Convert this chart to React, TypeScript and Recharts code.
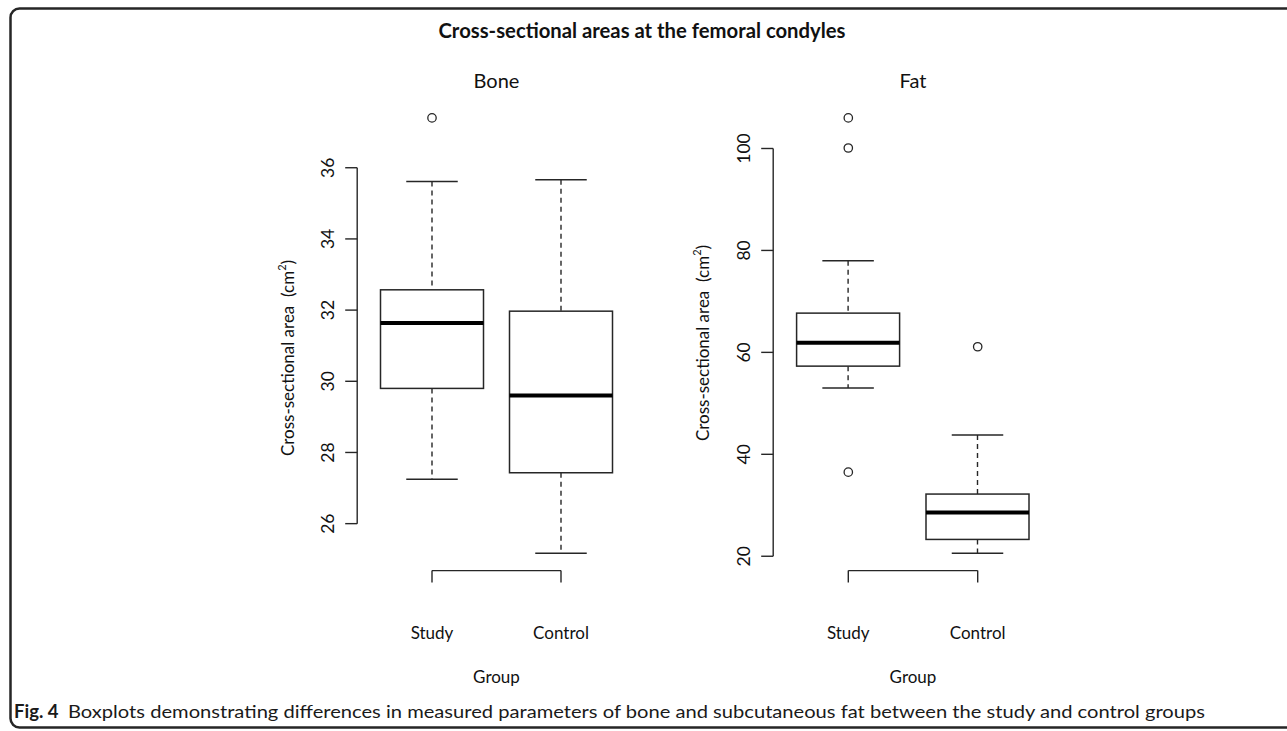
import React from 'react';
import { ComposedChart, Bar, Scatter, XAxis, YAxis, ReferenceLine } from 'recharts';

const groups = ['Study', 'Control'];

// Bone cross-sectional area (cm2), five-number summary per group
const boneLow = [27.25, 25.17];
const boneQ1 = [29.8, 27.43];
const boneMedian = [31.64, 29.6];
const boneQ3 = [32.57, 31.97];
const boneHigh = [35.61, 35.66];
const boneOutliers = [{ group: 'Study', value: 37.4 }];
const boneTicks = [26, 28, 30, 32, 34, 36];

// Subcutaneous fat cross-sectional area (cm2)
const fatLow = [53.0, 20.6];
const fatQ1 = [57.3, 23.3];
const fatMedian = [61.9, 28.6];
const fatQ3 = [67.7, 32.2];
const fatHigh = [78.0, 43.8];
const fatOutliers = [
  { group: 'Study', value: 106.0 },
  { group: 'Study', value: 100.1 },
  { group: 'Study', value: 36.5 },
  { group: 'Control', value: 61.1 },
];
const fatTicks = [20, 40, 60, 80, 100];

const INK = '#262626';
const FONT = "Lato, 'Open Sans', sans-serif";

const buildRows = (low: number[], q1: number[], med: number[], q3: number[], high: number[]) =>
  groups.map((g, i) => ({
    group: g,
    range: [low[i], high[i]],
    low: low[i],
    q1: q1[i],
    median: med[i],
    q3: q3[i],
    high: high[i],
  }));

// R-style axis range: data range widened by 4% on each side
const rDomain = (values: number[]): [number, number] => {
  const lo = Math.min(...values);
  const hi = Math.max(...values);
  const pad = (hi - lo) * 0.04;
  return [lo - pad, hi + pad];
};

const BoxShape = (props: any) => {
  const { x, y, width, height, payload } = props;
  const top = Math.min(y, y + height);
  const h = Math.abs(height);
  const ppu = h / (payload.high - payload.low);
  const py = (v: number) => top + (payload.high - v) * ppu;
  const cx = x + width / 2;
  const cap = width / 4;
  return (
    <g>
      <line x1={cx} x2={cx} y1={py(payload.high)} y2={py(payload.q3)} stroke={INK} strokeWidth={1.4} strokeDasharray="5 4" />
      <line x1={cx} x2={cx} y1={py(payload.q1)} y2={py(payload.low)} stroke={INK} strokeWidth={1.4} strokeDasharray="5 4" />
      <line x1={cx - cap} x2={cx + cap} y1={py(payload.high)} y2={py(payload.high)} stroke={INK} strokeWidth={1.5} />
      <line x1={cx - cap} x2={cx + cap} y1={py(payload.low)} y2={py(payload.low)} stroke={INK} strokeWidth={1.5} />
      <rect x={x} y={py(payload.q3)} width={width} height={py(payload.q1) - py(payload.q3)} fill="#fff" stroke={INK} strokeWidth={1.5} />
      <line x1={x} x2={x + width} y1={py(payload.median)} y2={py(payload.median)} stroke="#000" strokeWidth={4} />
    </g>
  );
};

const OutlierDot = (props: any) => {
  const { cx, cy } = props;
  return <circle cx={cx} cy={cy} r={4.2} fill="none" stroke={INK} strokeWidth={1.3} />;
};

const ValueTick = (props: any) => {
  const { x, y, payload } = props;
  const tx = x - 16;
  return (
    <text x={tx} y={y} transform={`rotate(-90, ${tx}, ${y})`} textAnchor="middle" dominantBaseline="central" fontSize={17.5} fontFamily={FONT} fill="#111">
      {payload.value}
    </text>
  );
};

const GroupTick = (props: any) => {
  const { x, y, payload } = props;
  return (
    <text x={x} y={y + 48} textAnchor="middle" dominantBaseline="central" fontSize={17} fontFamily={FONT} fill="#111">
      {payload.value}
    </text>
  );
};

interface PanelProps {
  rows: any[];
  outliers: { group: string; value: number }[];
  ticks: number[];
  left: number;
  width: number;
  marginLeft: number;
  marginRight: number;
  pad: number;
}

const Panel: React.FC<PanelProps> = ({ rows, outliers, ticks, left, width, marginLeft, marginRight, pad }) => {
  const domain = rDomain([...rows.map(r => r.low), ...rows.map(r => r.high), ...outliers.map(o => o.value)]);
  return (
    <div style={{ position: 'absolute', left, top: 0 }}>
      <ComposedChart
        width={width}
        height={731}
        data={rows}
        margin={{ top: 100.5, right: marginRight, left: marginLeft, bottom: 80.4 }}
      >
        <XAxis
          xAxisId="cat"
          dataKey="group"
          type="category"
          allowDuplicatedCategory={false}
          padding={{ left: pad, right: pad }}
          axisLine={false}
          tickLine={{ stroke: INK, strokeWidth: 1.4 }}
          tickSize={12}
          height={80}
          interval={0}
          tick={<GroupTick />}
        />
        <XAxis xAxisId="num" type="number" domain={[0, 1]} hide />
        <YAxis
          type="number"
          domain={domain}
          ticks={ticks}
          allowDataOverflow
          axisLine={false}
          tickLine={{ stroke: INK, strokeWidth: 1.4 }}
          tickSize={12}
          width={80}
          interval={0}
          tick={<ValueTick />}
        />
        <ReferenceLine
          xAxisId="num"
          segment={[{ x: 0, y: ticks[0] }, { x: 0, y: ticks[ticks.length - 1] }]}
          stroke={INK}
          strokeWidth={1.4}
          ifOverflow="visible"
        />
        <ReferenceLine
          xAxisId="cat"
          segment={[{ x: groups[0], y: domain[0] }, { x: groups[1], y: domain[0] }]}
          stroke={INK}
          strokeWidth={1.4}
          ifOverflow="visible"
        />
        <Bar xAxisId="cat" dataKey="range" barSize={103} shape={<BoxShape />} isAnimationActive={false} />
        <Scatter xAxisId="cat" data={outliers} dataKey="value" shape={<OutlierDot />} isAnimationActive={false} />
      </ComposedChart>
    </div>
  );
};

const boneRows = buildRows(boneLow, boneQ1, boneMedian, boneQ3, boneHigh);
const fatRows = buildRows(fatLow, fatQ1, fatMedian, fatQ3, fatHigh);

const YTitle = ({ x, y }: { x: number; y: number }) => (
  <text x={x} y={y} transform={`rotate(-90, ${x}, ${y})`} textAnchor="middle" dominantBaseline="central" fontSize={17} fontFamily={FONT} fill="#111" style={{ whiteSpace: 'pre' }}>
    {'Cross-sectional area  (cm'}
    <tspan fontSize={11} dy={-6}>2</tspan>
    <tspan dy={6}>)</tspan>
  </text>
);

export default function App() {
  return (
    <div style={{ position: 'relative', width: 1287, height: 731, background: '#fff', overflow: 'hidden' }}>
      <style>{'body{margin:0}'}</style>
      <Panel rows={boneRows} outliers={boneOutliers} ticks={boneTicks} left={0} width={660} marginLeft={277.2} marginRight={24.2} pad={10.3} />
      <Panel rows={fatRows} outliers={fatOutliers} ticks={fatTicks} left={660} width={627} marginLeft={33.2} marginRight={234.2} pad={10.4} />
      <svg width={1287} height={731} style={{ position: 'absolute', left: 0, top: 0, pointerEvents: 'none' }}>
        <rect x={10.5} y={8.5} width={1300} height={719} rx={9} fill="none" stroke={INK} strokeWidth={2.5} />
        <text x={642} y={30} textAnchor="middle" dominantBaseline="central" fontSize={21.5} fontWeight={700} fontFamily={FONT} fill="#111" textLength={407} lengthAdjust="spacingAndGlyphs">
          Cross-sectional areas at the femoral condyles
        </text>
        <text x={496.5} y={80} textAnchor="middle" dominantBaseline="central" fontSize={20} fontFamily={FONT} fill="#111">Bone</text>
        <text x={913} y={80} textAnchor="middle" dominantBaseline="central" fontSize={20} fontFamily={FONT} fill="#111">Fat</text>
        <YTitle x={287} y={358} />
        <YTitle x={702} y={343} />
        <text x={496.5} y={676} textAnchor="middle" dominantBaseline="central" fontSize={17} fontFamily={FONT} fill="#111">Group</text>
        <text x={913} y={676} textAnchor="middle" dominantBaseline="central" fontSize={17} fontFamily={FONT} fill="#111">Group</text>
        <text x={14} y={711} dominantBaseline="central" fontSize={18.5} fontWeight={700} fontFamily={FONT} fill="#1a1a1a">Fig. 4</text>
        <text x={68} y={711} dominantBaseline="central" fontSize={17.5} fontFamily={FONT} fill="#1a1a1a" textLength={1137} lengthAdjust="spacingAndGlyphs">
          Boxplots demonstrating differences in measured parameters of bone and subcutaneous fat between the study and control groups
        </text>
      </svg>
    </div>
  );
}
